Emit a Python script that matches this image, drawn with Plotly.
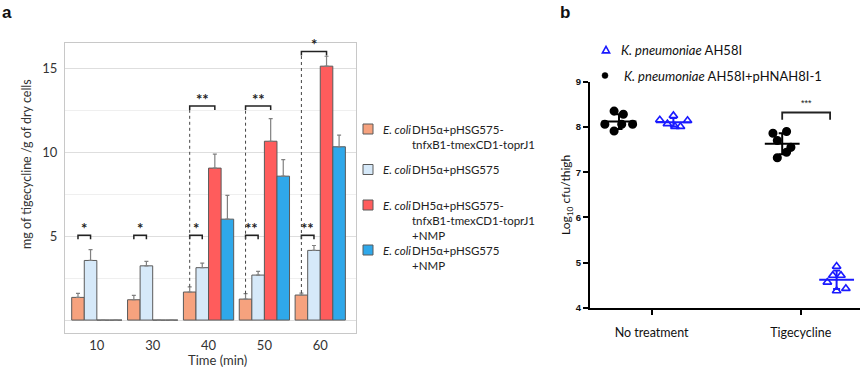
import plotly.graph_objects as go

# ---------------- Panel a data ----------------
time_labels = ["10", "30", "40", "50", "60"]
series_a_names = [
    "DH5α+pHSG575-<br>tnfxB1-tmexCD1-toprJ1",
    "DH5α+pHSG575",
    "DH5α+pHSG575-<br>tnfxB1-tmexCD1-toprJ1<br>+NMP",
    "DH5α+pHSG575<br>+NMP",
]
orange_vals = [1.35, 1.21, 1.67, 1.25, 1.49]
orange_err = [0.24, 0.26, 0.31, 0.32, 0.12]
lightblue_vals = [3.55, 3.23, 3.12, 2.68, 4.15]
lightblue_err = [0.65, 0.26, 0.27, 0.22, 0.29]
red_vals = [0, 0, 9.05, 10.65, 15.12]
red_err = [0, 0, 0.83, 1.35, 0.59]
blue_vals = [0, 0, 6.01, 8.57, 10.32]
blue_err = [0, 0, 1.41, 0.99, 0.69]

# significance: (group, bar_from, bar_to, level, label)
sig_a = [
    (0, 0, 1, 5.05, "*"), (1, 0, 1, 5.05, "*"), (2, 0, 1, 5.05, "*"),
    (2, 0, 2, 12.75, "**"), (3, 0, 1, 5.05, "**"), (3, 0, 2, 12.75, "**"),
    (4, 0, 1, 5.05, "**"), (4, 0, 2, 16.0, "*"),
]

# ---------------- Panel b data ----------------
b_categories = ["No treatment", "Tigecycline"]
b_tick_pos = [1.6, 4.34]
black_nt_y = [8.35, 8.28, 8.06, 8.06, 8.06, 7.91]
black_nt_dx = [-0.09, 0.08, -0.26, 0.05, 0.25, -0.09]
blue_nt_y = [8.155, 8.25, 8.14, 8.07, 8.01, 8.01]
blue_nt_dx = [-0.25, 0.0, 0.26, -0.11, 0.03, 0.13]
black_tig_y = [7.86, 7.90, 7.70, 7.55, 7.44, 7.32]
black_tig_dx = [-0.17, 0.08, -0.09, 0.16, 0.08, -0.09]
blue_tig_y = [4.92, 4.72, 4.72, 4.57, 4.38, 4.43]
blue_tig_dx = [0.0, -0.07, 0.08, -0.17, 0.0, 0.17]
b_columns = {"black": [1, 4], "blue": [2, 5]}
b_names = ["<i>K. pneumoniae</i> AH58I", "<i>K. pneumoniae</i> AH58I+pHNAH8I-1"]

W, H = 865, 368
def px(x): return x / W
def py(y): return 1 - y / H

FONT = "Lato"
colors_a = ["#F6A27E", "#D6E9F9", "#FF5C5C", "#2FA8EA"]
outline = "#5a5a5a"
BLUE_B = "#1a1aff"

fig = go.Figure()

vals_a = [orange_vals, lightblue_vals, red_vals, blue_vals]
errs_a = [orange_err, lightblue_err, red_err, blue_err]
xs = list(range(len(time_labels)))
for k in range(4):
    fig.add_trace(go.Bar(
        x=xs, y=vals_a[k], marker=dict(color=colors_a[k], line=dict(color=outline, width=1)),
        error_y=dict(type="data", symmetric=False, array=errs_a[k], arrayminus=[0] * 5,
                     color="#808080", thickness=1.2, width=2),
        showlegend=False, xaxis="x", yaxis="y"))

bw = 0.9 / 4
def bar_center(g, b):
    return g - 0.45 + bw * (b + 0.5)

shapes = []
annotations = []
tick_a = 0.24
for g, b0, b1, lvl, lab in sig_a:
    x0, x1 = bar_center(g, b0), bar_center(g, b1)
    shapes.append(dict(type="path", xref="x", yref="y",
                       path=f"M {x0} {lvl - tick_a} L {x0} {lvl} L {x1} {lvl} L {x1} {lvl - tick_a}",
                       line=dict(color="#222", width=1.5)))
    if lvl > 10:
        bottom = orange_vals[g] + orange_err[g]
        shapes.append(dict(type="line", xref="x", yref="y", x0=x0, x1=x0, y0=bottom, y1=lvl - tick_a,
                           line=dict(color="#444", width=1, dash="dot")))
    annotations.append(dict(x=(x0 + x1) / 2, y=lvl, xref="x", yref="y", text=f"<b>{lab}</b>",
                            showarrow=False, xanchor="center", yanchor="bottom", yshift=-4,
                            font=dict(family=FONT, size=15, color="#222")))

# ---- panel b traces ----
def sd(v):
    m = sum(v) / len(v)
    return (sum((a - m) ** 2 for a in v) / (len(v) - 1)) ** 0.5

groups_b = [
    (b_columns["black"][0], black_nt_y, black_nt_dx, "black", "circle"),
    (b_columns["blue"][0], blue_nt_y, blue_nt_dx, BLUE_B, "triangle-up-open"),
    (b_columns["black"][1], black_tig_y, black_tig_dx, "black", "circle"),
    (b_columns["blue"][1], blue_tig_y, blue_tig_dx, BLUE_B, "triangle-up-open"),
]
for c, yv, dx, col, sym in groups_b:
    m = sum(yv) / len(yv)
    fig.add_trace(go.Scatter(x=[c - 0.32, c + 0.32], y=[m, m], mode="lines",
                             line=dict(color=col, width=2), showlegend=False, xaxis="x2", yaxis="y2"))
    fig.add_trace(go.Scatter(x=[c], y=[m], mode="markers", marker=dict(size=2, color=col),
                             error_y=dict(type="data", array=[sd(yv)], color=col, thickness=2, width=3.5),
                             showlegend=False, xaxis="x2", yaxis="y2"))
    fig.add_trace(go.Scatter(x=[c + d for d in dx], y=yv, mode="markers",
                             marker=dict(symbol=sym, size=7.5, color=col,
                                         line=dict(color=col, width=1.6)),
                             showlegend=False, xaxis="x2", yaxis="y2"))

# significance in b
bx0, bx1 = b_columns["black"][1], b_columns["blue"][1] - 0.12
blvl = 8.32
shapes.append(dict(type="path", xref="x2", yref="y2",
                   path=f"M {bx0} {blvl - 0.16} L {bx0} {blvl} L {bx1} {blvl} L {bx1} {blvl - 0.16}",
                   line=dict(color="#222", width=1.8)))
annotations.append(dict(x=(bx0 + bx1) / 2, y=blvl, xref="x2", yref="y2", text="***", showarrow=False,
                        xanchor="center", yanchor="bottom", yshift=2,
                        font=dict(family="Liberation Sans", size=9, color="#222")))

# ---- legend a (manual) ----
leg_a_y = [129, 169.5, 205, 250]
for k in range(4):
    cy = leg_a_y[k]
    shapes.append(dict(type="rect", xref="paper", yref="paper", x0=px(363), x1=px(373),
                       y0=py(cy + 5), y1=py(cy - 5), fillcolor=colors_a[k],
                       line=dict(color=outline, width=1)))
    annotations.append(dict(x=px(381), y=py(cy), xref="paper", yref="paper", text="<i>E. coli</i>",
                            showarrow=False, xanchor="left", yanchor="middle",
                            font=dict(family=FONT, size=11.5, color="#222")))
    nl = series_a_names[k].count("<br>")
    annotations.append(dict(x=px(410), y=py(cy + nl * 7.5), xref="paper", yref="paper",
                            text=series_a_names[k], showarrow=False, xanchor="left", yanchor="middle",
                            align="left", font=dict(family=FONT, size=11.5, color="#222")))

# ---- legend b symbols (shapes) ----
tx, ty, ts = 606, 50, 3.6
shapes.append(dict(type="path", xref="paper", yref="paper",
                   path=f"M {px(tx - ts)} {py(ty + ts * 0.8)} L {px(tx + ts)} {py(ty + ts * 0.8)} "
                        f"L {px(tx)} {py(ty - ts)} Z",
                   line=dict(color=BLUE_B, width=1.6)))
shapes.append(dict(type="circle", xref="paper", yref="paper", x0=px(602), x1=px(608),
                   y0=py(78.5), y1=py(72.5), fillcolor="black", line=dict(color="black", width=0.5)))
annotations.append(dict(x=px(619), y=py(50), xref="paper", yref="paper", text=b_names[0],
                        showarrow=False, xanchor="left", yanchor="middle",
                        font=dict(family=FONT, size=13, color="#111")))
annotations.append(dict(x=px(622), y=py(76), xref="paper", yref="paper", text=b_names[1],
                        showarrow=False, xanchor="left", yanchor="middle",
                        font=dict(family=FONT, size=13, color="#111")))

# axis titles & panel labels
ctr = dict(xanchor="center", yanchor="middle", showarrow=False, xref="paper", yref="paper")
annotations += [
    dict(x=px(26), y=py(164), text="mg of tigecycline /g of dry cells", textangle=-90,
         font=dict(family=FONT, size=12.5, color="#333"), **ctr),
    dict(x=px(217), y=py(360), text="Time (min)", font=dict(family=FONT, size=13, color="#333"), **ctr),
    dict(x=px(566), y=py(195), text="Log<sub>10</sub> cfu/thigh", textangle=-90,
         font=dict(family=FONT, size=12, color="#111"), **ctr),
    dict(x=px(7), y=py(12), text="<b>a</b>", font=dict(family="Liberation Sans", size=17, color="#111"), **ctr),
    dict(x=px(565), y=py(12), text="<b>b</b>", font=dict(family="Liberation Sans", size=17, color="#111"), **ctr),
]

fig.update_layout(
    template="none",
    width=W, height=H, margin=dict(l=0, r=0, t=0, b=0, pad=0, autoexpand=False),
    paper_bgcolor="white", plot_bgcolor="white",
    barmode="group", bargap=0.1, bargroupgap=0,
    xaxis=dict(domain=[px(65), px(356)], range=[-0.57, 4.64], tickvals=xs, ticktext=time_labels,
               showline=True, mirror=True, linecolor="#c8c8c8", linewidth=1, showgrid=False,
               zeroline=False, ticks="", automargin=False,
               tickfont=dict(family=FONT, size=13, color="#333"), anchor="y"),
    yaxis=dict(domain=[py(333), py(43)], range=[-0.77, 16.5], tickvals=[5, 10, 15],
               showline=True, mirror=True, linecolor="#c8c8c8",
               linewidth=1, showgrid=True, gridcolor="#dedede", gridwidth=1,
               zeroline=True, zerolinecolor="#dedede", zerolinewidth=1,
               ticks="outside", ticklen=4, tickcolor="rgba(0,0,0,0)", automargin=False,
               minor=dict(tick0=0, dtick=2.5, showgrid=True, gridcolor="#efefef"),
               tickfont=dict(family=FONT, size=13, color="#333"), anchor="x"),
    xaxis2=dict(domain=[px(590), px(860)], range=[0.467, 5.43], tickvals=b_tick_pos,
                ticktext=b_categories, showline=True, linecolor="black", linewidth=2,
                ticks="outside", ticklen=5, tickwidth=2, tickcolor="black", showgrid=False,
                zeroline=False, automargin=False, ticklabelstandoff=7,
                tickfont=dict(family=FONT, size=12.5, color="#111"), anchor="y2"),
    yaxis2=dict(domain=[py(308), py(81.7)], range=[4, 9], dtick=1, showline=True,
                linecolor="black", linewidth=2, ticks="outside", ticklen=5, tickwidth=1.5,
                tickcolor="black", showgrid=False, zeroline=False, automargin=False,
                tickfont=dict(family="Liberation Sans", size=9.5, color="#111", weight="bold"),
                anchor="x2"),
    shapes=shapes, annotations=annotations,
)

fig.write_html("out.html", config={"displayModeBar": False},
               post_script="document.body.style.margin='0px';")
